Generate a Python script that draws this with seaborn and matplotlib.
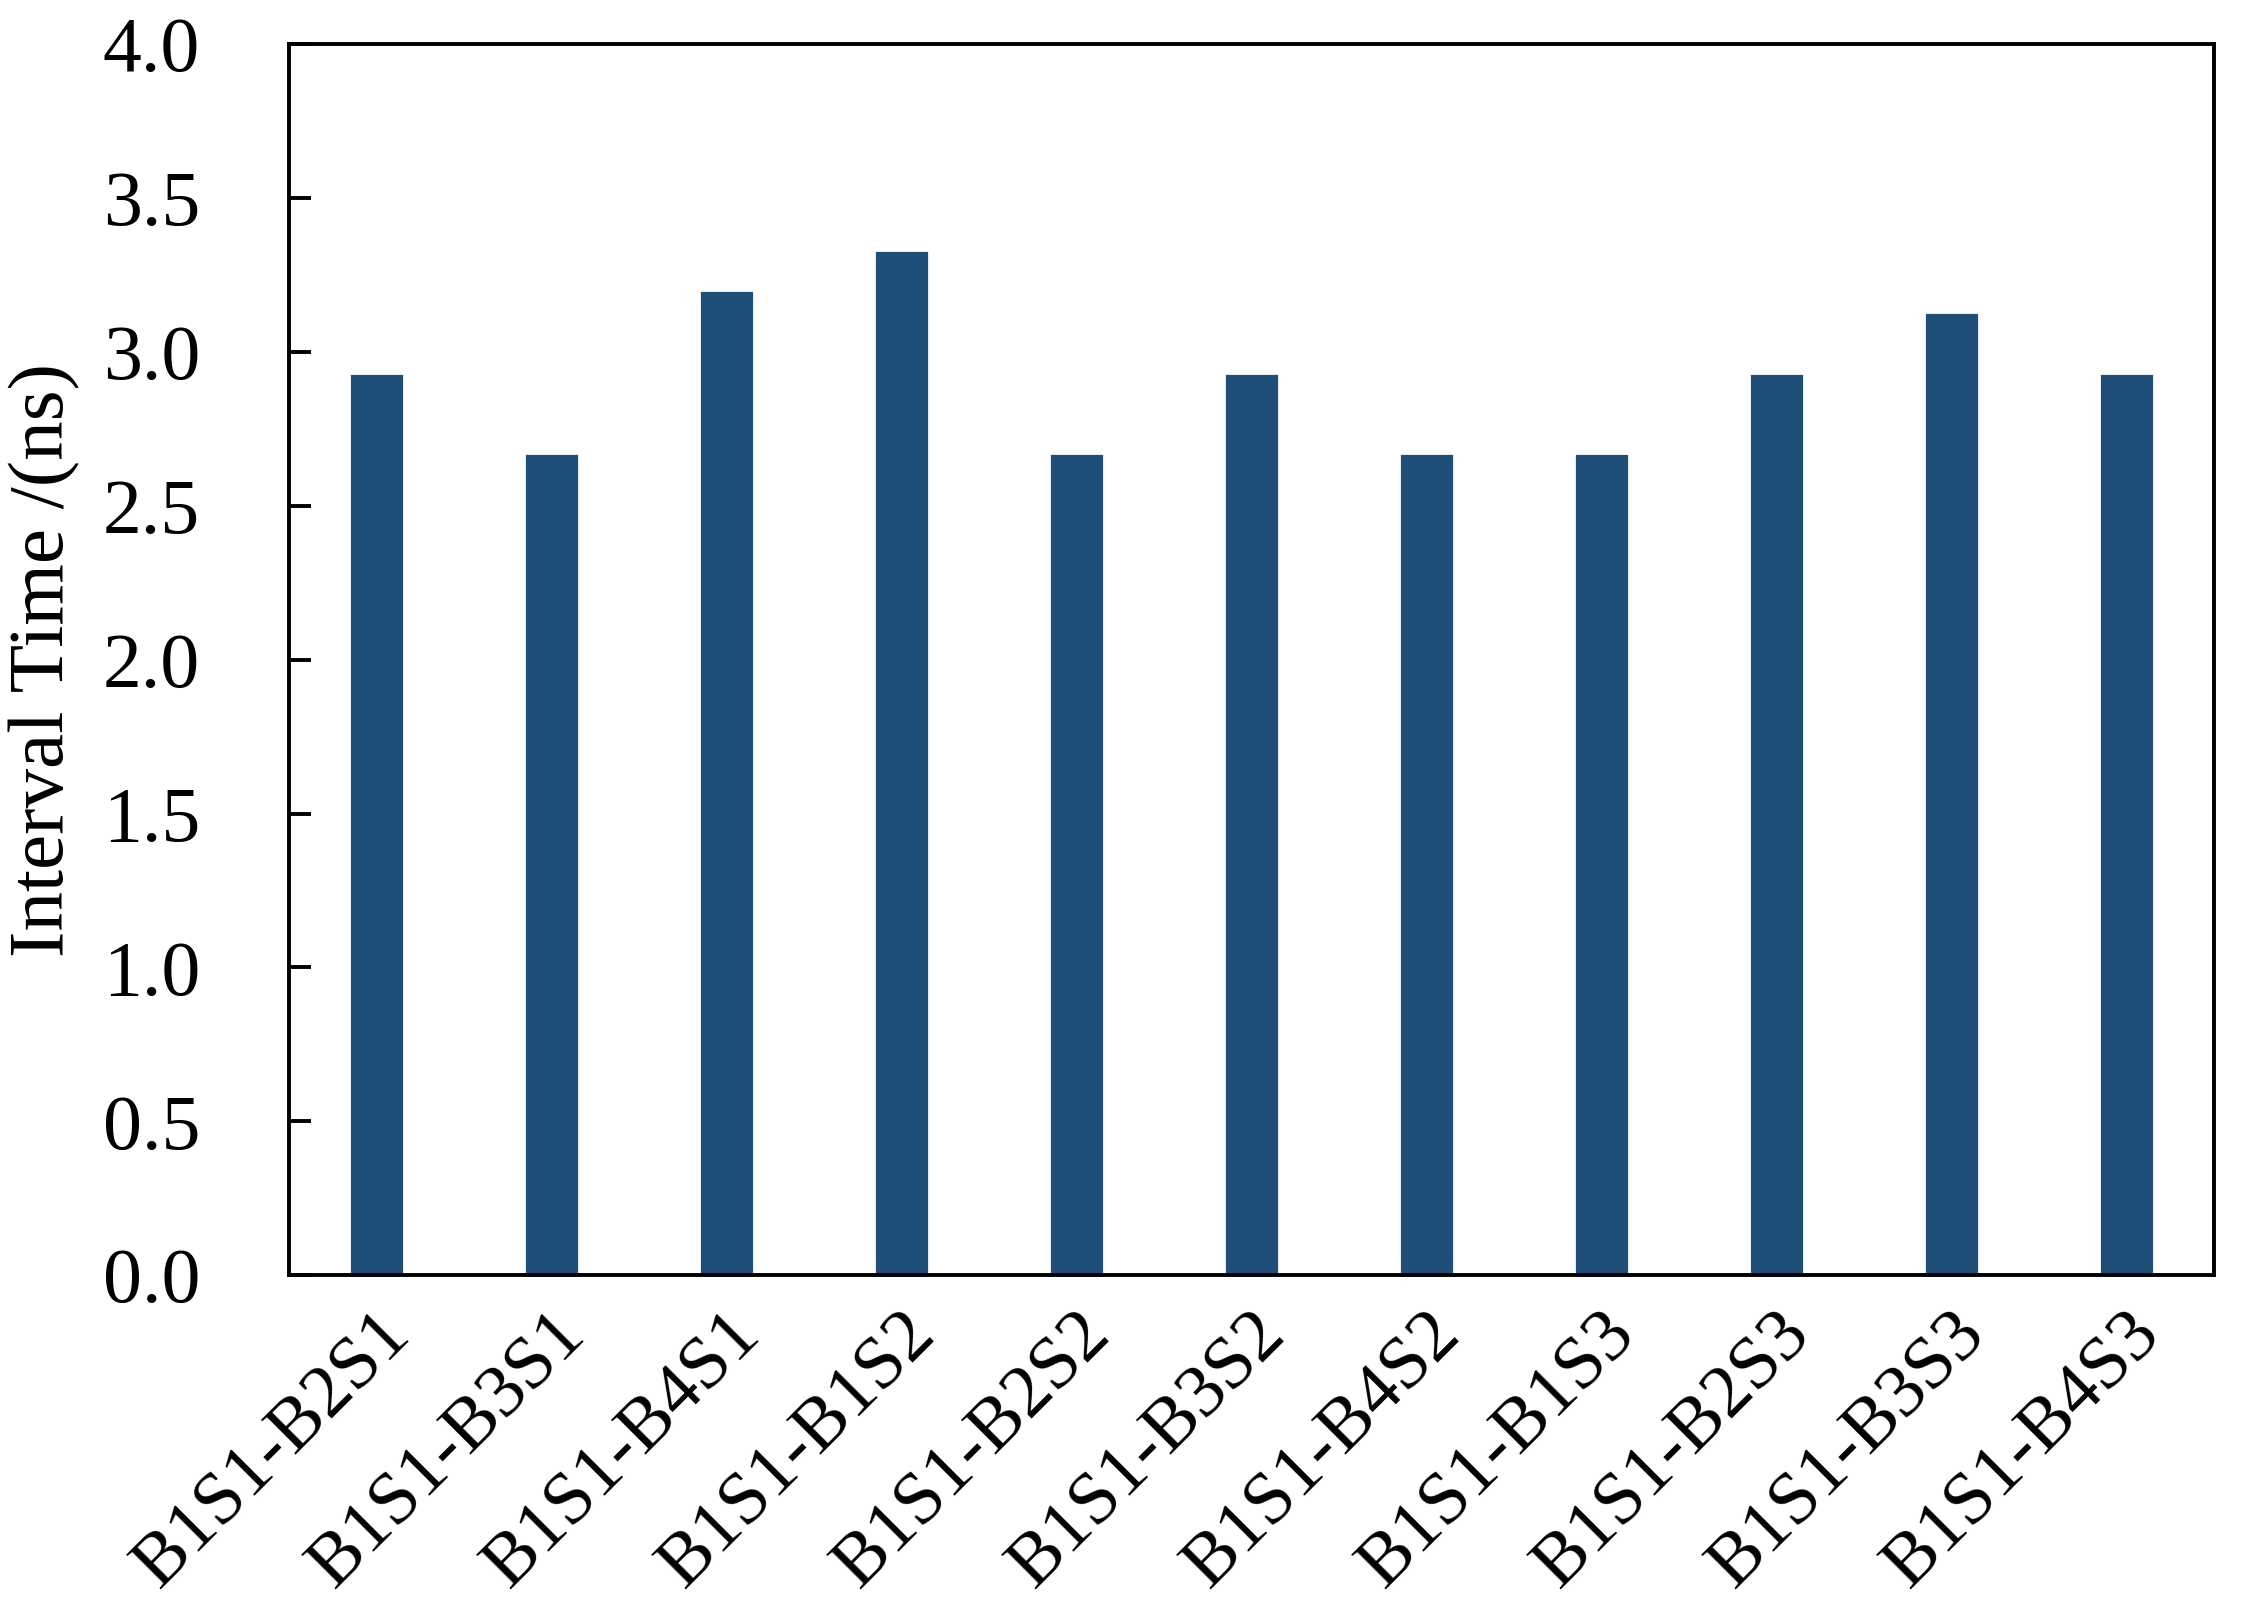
import matplotlib
matplotlib.use("Agg")
import matplotlib.pyplot as plt
import seaborn as sns
import pandas as pd

pairs = ['B1S1-B2S1', 'B1S1-B3S1', 'B1S1-B4S1', 'B1S1-B1S2', 'B1S1-B2S2', 'B1S1-B3S2',
         'B1S1-B4S2', 'B1S1-B1S3', 'B1S1-B2S3', 'B1S1-B3S3', 'B1S1-B4S3']
interval = [2.93, 2.67, 3.20, 3.33, 2.67, 2.93, 2.67, 2.67, 2.93, 3.13, 2.93]
yticks = [0.0, 0.5, 1.0, 1.5, 2.0, 2.5, 3.0, 3.5, 4.0]

df = pd.DataFrame({'pair': pairs, 'time': interval})

sns.set_style('ticks')
plt.rcParams['font.family'] = ['Liberation Serif', 'DejaVu Serif']
plt.rcParams['font.size'] = 27
plt.rcParams['text.color'] = 'black'
plt.rcParams['axes.labelcolor'] = 'black'
plt.rcParams['xtick.color'] = 'black'
plt.rcParams['ytick.color'] = 'black'

fig, ax = plt.subplots(figsize=(11.205, 8), dpi=200)
fig.subplots_adjust(left=0.129, right=0.988, top=0.9725, bottom=0.203)

sns.barplot(x='pair', y='time', data=df, color='#1f4e79', saturation=1,
            width=0.31, ax=ax)

ax.set_ylim(0, 4.0)
ax.set_xlim(-0.5, len(pairs) - 0.5)
ax.set_yticks(yticks)
ax.set_yticklabels([f'{v:.1f}' for v in yticks], fontsize=28)
ax.set_xlabel('')
ax.set_ylabel('Interval Time /(ns)', fontsize=28.5, labelpad=8)

for s in ax.spines.values():
    s.set_visible(True)
    s.set_linewidth(1.4)
    s.set_color('black')

ax.tick_params(axis='y', direction='in', length=8, width=1.4, pad=32)
ax.tick_params(axis='x', length=0, pad=9)
plt.setp(ax.get_xticklabels(), rotation=45, ha='right', rotation_mode='anchor')

fig.savefig('out.png', dpi=200)
